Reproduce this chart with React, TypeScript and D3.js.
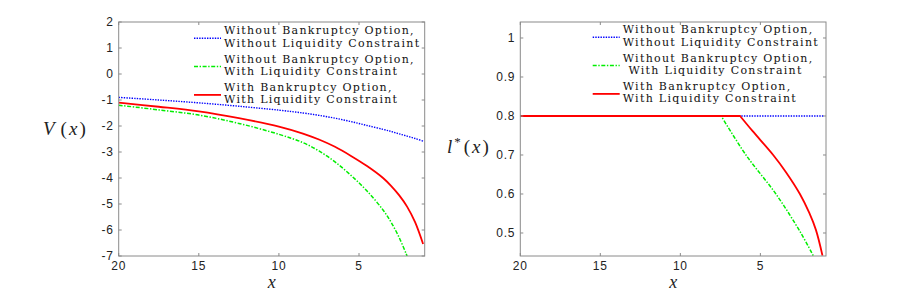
import * as d3 from "d3";

// ---- data ----
const X_TICKS = [20, 15, 10, 5];
const V_TICKS = [2, 1, 0, -1, -2, -3, -4, -5, -6, -7];
const L_TICKS = [0.5, 0.6, 0.7, 0.8, 0.9, 1];

const V_X = [20, 17.5, 15, 12.5, 10, 8.5, 7.5, 6.5, 5.5, 4.5, 3.5, 3, 2.5, 2, 1.5, 1];
const V_NOBANK_NOLIQ = [-0.9, -1.0, -1.11, -1.24, -1.39, -1.5, -1.59, -1.7, -1.83, -1.98, -2.13, -2.21, -2.3, -2.39, -2.48, -2.58];
const V_NOBANK_LIQ = [-1.2, -1.38, -1.58, -1.9, -2.32, -2.64, -2.96, -3.38, -3.9, -4.5, -5.23, -5.7, -6.28, -7.0];
const V_BANK_LIQ = [-1.1, -1.26, -1.44, -1.7, -2.02, -2.29, -2.52, -2.8, -3.15, -3.54, -4.0, -4.3, -4.66, -5.1, -5.7, -6.54];

// l*(x): first two points are the flat part, the rest is the curved part
const L_NOBANK_NOLIQ_X = [20, 1];
const L_NOBANK_NOLIQ = [0.8, 0.8];
const L_NOBANK_LIQ_X = [20, 7.45, 5.9, 4.03, 2.47, 1.7];
const L_NOBANK_LIQ = [0.8, 0.8, 0.7, 0.6, 0.5, 0.442];
const L_BANK_LIQ_X = [20, 6.27, 5.48, 4.2, 3.4, 2.53, 1.95, 1.53, 1.12];
const L_BANK_LIQ = [0.8, 0.8, 0.761, 0.7, 0.656, 0.6, 0.552, 0.508, 0.442];

const LEGEND = [
  ["Without Bankruptcy Option,", "Without Liquidity Constraint"],
  ["Without Bankruptcy Option,", "With Liquidity Constraint"],
  ["With Bankruptcy Option,", "With Liquidity Constraint"],
];

const STYLES = [
  { color: "#0000ff", dash: "1.4 1.2", w: 1.4 },
  { color: "#00ee00", dash: "4 1.6 1.4 1.6", w: 1.5 },
  { color: "#ff0000", dash: "none", w: 1.8 },
];

const W = 913;
const H = 291;
const TOP = 22;
const BOTTOM = 256;
const AXIS = "#8a8a8a";
const TICK_FONT = "'Liberation Sans', Arial, sans-serif";
const SERIF = "'DejaVu Serif', serif";
const MATH = "'Liberation Serif', 'Times New Roman', serif";

type Series = { xs: number[]; ys: number[]; flat?: number };

interface PanelProps {
  id: string;
  left: number;
  right: number;
  yDomain: [number, number];
  yTicks: number[];
  fmt: (d: number) => string;
  series: Series[];
  legendX: number;
  legendY: number;
  indent?: number;
  ylabel: React.ReactNode;
}

const smooth = d3.line().curve(d3.curveCatmullRom.alpha(0.5));
const straight = d3.line();

function Panel({ id, left, right, yDomain, yTicks, fmt, series, legendX, legendY, indent = 0, ylabel }: PanelProps) {
  const x = d3.scaleLinear().domain([20, 0.9]).range([left, right]);
  const y = d3.scaleLinear().domain(yDomain).range([BOTTOM, TOP]);
  const tl = 3;

  return (
    <g>
      <defs>
        <clipPath id={id}>
          <rect x={left} y={TOP} width={right - left} height={BOTTOM - TOP} />
        </clipPath>
      </defs>

      <g clipPath={`url(#${id})`}>
        {series.map((s, i) => {
          const pts = s.xs.map((d, j) => [x(d), y(s.ys[j])] as [number, number]);
          const st = STYLES[i];
          // flat head drawn straight, the bent tail smoothed
          const k = s.flat ?? 0;
          const d = k > 0
            ? straight(pts.slice(0, k + 1))! + (pts.length > k + 1 ? smooth(pts.slice(k))!.replace(/^M[^C]*/, "") : "")
            : smooth(pts)!;
          return (
            <path key={i} d={d} fill="none" stroke={st.color} strokeWidth={st.w}
              strokeDasharray={st.dash} />
          );
        })}
      </g>

      {/* box + ticks */}
      <rect x={left} y={TOP} width={right - left} height={BOTTOM - TOP} fill="none" stroke={AXIS} strokeWidth={1} />
      {X_TICKS.map((t) => (
        <g key={"x" + t}>
          <line x1={x(t)} x2={x(t)} y1={BOTTOM} y2={BOTTOM - tl} stroke={AXIS} />
          <line x1={x(t)} x2={x(t)} y1={TOP} y2={TOP + tl} stroke={AXIS} />
          <text x={x(t)} y={BOTTOM + 14} textAnchor="middle" fontFamily={TICK_FONT} fontSize={12}
            letterSpacing={0.8} fill="#222">{t}</text>
        </g>
      ))}
      {yTicks.map((t) => (
        <g key={"y" + t}>
          <line x1={left} x2={left + tl} y1={y(t)} y2={y(t)} stroke={AXIS} />
          <line x1={right} x2={right - tl} y1={y(t)} y2={y(t)} stroke={AXIS} />
          <text x={left - 5} y={y(t)} dy="0.36em" textAnchor="end" fontFamily={TICK_FONT} fontSize={12}
            letterSpacing={0.8} fill="#222">{fmt(t)}</text>
        </g>
      ))}

      <text x={(left + right) / 2} y={288} textAnchor="middle" fontFamily={MATH} fontStyle="italic"
        fontSize={18} fill="#222">x</text>
      {ylabel}

      {/* legend */}
      {LEGEND.map((lines, i) => {
        const by = legendY + i * 28.3;
        const st = STYLES[i];
        return (
          <g key={"lg" + i}>
            <line x1={legendX - 30} x2={legendX - 3} y1={by + 4} y2={by + 4} stroke={st.color}
              strokeWidth={st.w} strokeDasharray={st.dash} />
            {lines.map((l, k) => (
              <text key={k} x={legendX + (i === 1 && k === 1 ? indent : 0)} y={by + k * 12.2}
                fontFamily={SERIF} fontSize={11} letterSpacing={1.3} fill="#111">{l}</text>
            ))}
          </g>
        );
      })}
    </g>
  );
}

export default function App() {
  const vSeries: Series[] = [
    { xs: V_X, ys: V_NOBANK_NOLIQ },
    { xs: V_X.slice(0, V_NOBANK_LIQ.length), ys: V_NOBANK_LIQ },
    { xs: V_X, ys: V_BANK_LIQ },
  ];
  const lSeries: Series[] = [
    { xs: L_NOBANK_NOLIQ_X, ys: L_NOBANK_NOLIQ, flat: 1 },
    { xs: L_NOBANK_LIQ_X, ys: L_NOBANK_LIQ, flat: 1 },
    { xs: L_BANK_LIQ_X, ys: L_BANK_LIQ, flat: 1 },
  ];

  return (
    <svg width={W} height={H} style={{ position: "absolute", left: 0, top: 0, background: "#fff" }}>
      <Panel
        id="cv"
        left={118.7}
        right={424.7}
        yDomain={[-7, 2]}
        yTicks={V_TICKS}
        fmt={(d) => String(d)}
        series={vSeries}
        legendX={224}
        legendY={34.3}
        ylabel={
          <text x={43} y={135} fontFamily={MATH} fontSize={19} fill="#222" letterSpacing={2}>
            <tspan fontStyle="italic">V</tspan>
            <tspan dx={4}>(</tspan>
            <tspan fontStyle="italic">x</tspan>
            <tspan>)</tspan>
          </text>
        }
      />
      <Panel
        id="cl"
        left={520.3}
        right={826}
        yDomain={[0.441, 1.041]}
        yTicks={L_TICKS}
        fmt={(d) => (d === 1 ? "1" : d.toFixed(1))}
        series={lSeries}
        legendX={622.7}
        legendY={33.3}
        indent={5.7}
        ylabel={
          <text x={447} y={153} fontFamily={MATH} fontSize={19} fill="#222" letterSpacing={2}>
            <tspan fontStyle="italic">l</tspan>
            <tspan fontSize={13} dy={-7}>*</tspan>
            <tspan dy={7} dx={1}>(</tspan>
            <tspan fontStyle="italic">x</tspan>
            <tspan>)</tspan>
          </text>
        }
      />
    </svg>
  );
}
